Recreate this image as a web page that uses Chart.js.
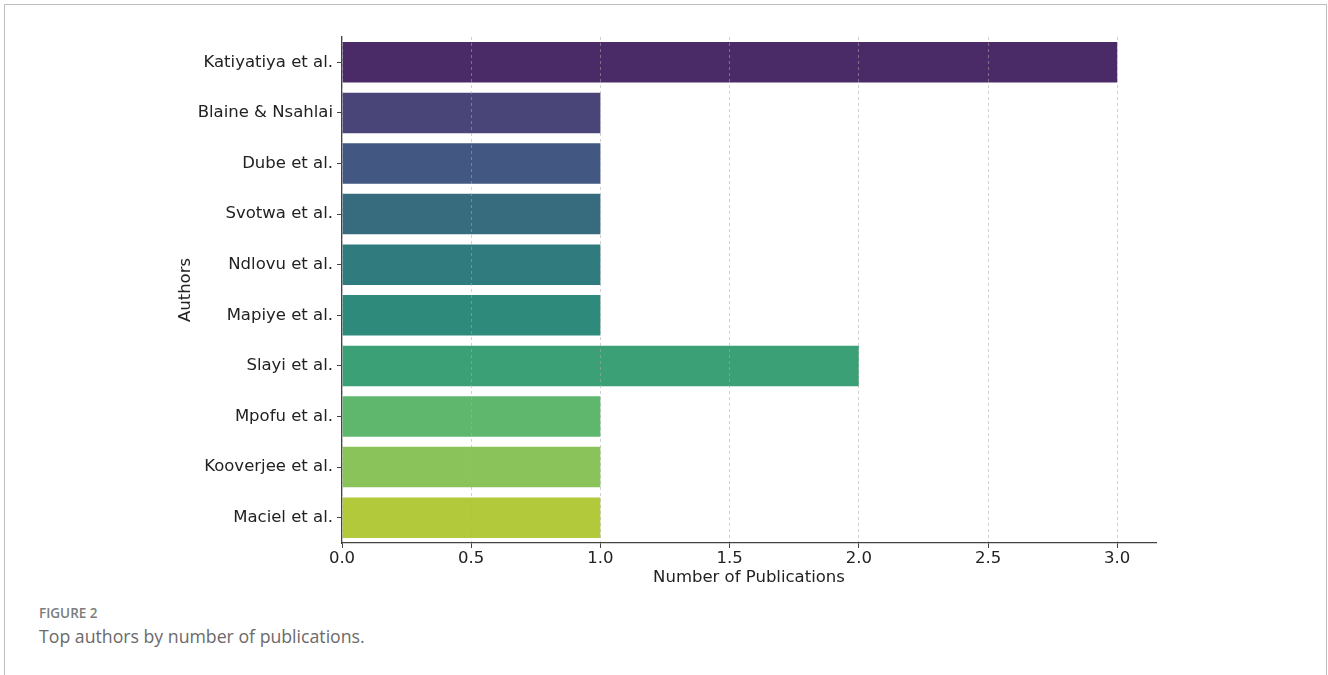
<!DOCTYPE html>
<html>
<head>
<meta charset="utf-8">
<script src="https://cdn.jsdelivr.net/npm/chart.js@4.4.1/dist/chart.umd.min.js"></script>
<style>
  html, body { margin: 0; padding: 0; background: #fff; }
  body { width: 1328px; height: 675px; overflow: hidden; position: relative; }
  .frame {
    position: absolute; left: 4px; top: 4px; width: 1323px; height: 700px;
    border: 1px solid #bdbdbd; border-bottom: none; box-sizing: border-box;
  }
  .plot { position: absolute; left: 0; top: 0; width: 1328px; height: 600px; }
  .fig-label {
    position: absolute; left: 39px; top: 604px;
    font-family: "Open Sans", Lato, sans-serif; font-size: 13.5px; font-weight: 600; color: #7d7d7d;
  }
  .fig-caption {
    position: absolute; left: 39px; top: 624px;
    font-family: "Open Sans", Lato, sans-serif; font-size: 17.7px; color: #6a6a6a;
  }
</style>
</head>
<body>
<div class="frame"></div>
<div class="plot"><canvas id="chart"></canvas></div>
<div class="fig-label">FIGURE 2</div>
<div class="fig-caption">Top authors by number of publications.</div>
<script>
// data
const authors = [
  'Katiyatiya et al.', 'Blaine & Nsahlai', 'Dube et al.', 'Svotwa et al.', 'Ndlovu et al.',
  'Mapiye et al.', 'Slayi et al.', 'Mpofu et al.', 'Kooverjee et al.', 'Maciel et al.'
];
const publications = [3, 1, 1, 1, 1, 1, 2, 1, 1, 1];
// viridis-like palette, top to bottom
const barColors = [
  '#4a2a67', '#4a4578', '#425882', '#376b7e', '#2f7b7d',
  '#2e8b7c', '#3ca077', '#5fb76e', '#8bc35b', '#b3c93c'
];
const xTicks = [0, 0.5, 1, 1.5, 2, 2.5, 3];

Chart.defaults.font.family = '"DejaVu Sans", sans-serif';
Chart.defaults.font.size = 16.5;
Chart.defaults.color = '#222';

const ctx = document.getElementById('chart').getContext('2d');
new Chart(ctx, {
  type: 'bar',
  data: {
    labels: authors,
    datasets: [{
      data: publications,
      backgroundColor: barColors,
      borderWidth: 0,
      barPercentage: 0.8,
      categoryPercentage: 1.0
    }]
  },
  options: {
    indexAxis: 'y',
    responsive: true,
    maintainAspectRatio: false,
    animation: false,
    layout: { padding: { left: 172, top: 37, right: 172, bottom: 12 } },
    plugins: {
      legend: { display: false },
      tooltip: { enabled: false }
    },
    scales: {
      x: {
        type: 'linear',
        min: 0,
        max: 3.15,
        afterBuildTicks: (scale) => {
          scale.ticks = xTicks.map(v => ({ value: v }));
        },
        afterFit: (scale) => { scale.height = 45; },
        ticks: {
          padding: 1,
          color: '#222',
          callback: (v) => Number(v).toFixed(1)
        },
        grid: {
          z: 1,
          color: 'rgba(170,170,170,0.55)',
          lineWidth: 1,
          tickLength: 5,
          tickColor: '#444',
          tickWidth: 1
        },
        border: { display: true, color: '#444', width: 1.3, dash: [3, 3], z: 2 },
        title: {
          display: true,
          text: 'Number of Publications',
          color: '#222',
          font: { size: 16.5 },
          padding: { top: 0, bottom: 0 }
        }
      },
      y: {
        type: 'category',
        afterFit: (scale) => { scale.width = 170; },
        ticks: { padding: 4, color: '#222' },
        grid: {
          offset: false,
          drawOnChartArea: false,
          tickLength: 5,
          tickColor: '#444'
        },
        border: { display: true, color: '#444', width: 1.3 },
        title: {
          display: true,
          text: 'Authors',
          color: '#222',
          font: { size: 16.5 },
          padding: { top: 4, bottom: 0 }
        }
      }
    }
  }
});
</script>
</body>
</html>
